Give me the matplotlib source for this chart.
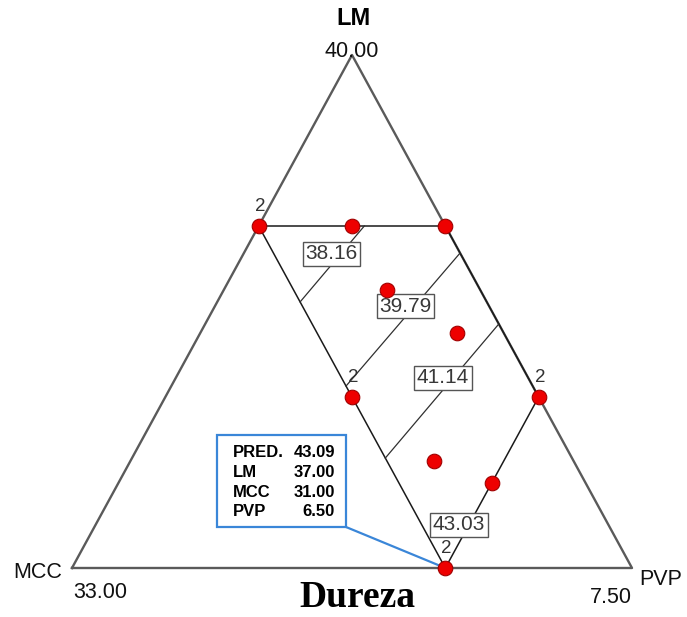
import numpy as np
import matplotlib.pyplot as plt
from matplotlib.patches import Rectangle

# valores nos vertices do simplex
lm_max = 40.00
mcc_max = 33.00
pvp_max = 7.50
total = 74.5

# limites inferiores de cada componente
span = (lm_max + mcc_max + pvp_max - total) / 2
lm_min = lm_max - span
mcc_min = mcc_max - span
pvp_min = pvp_max - span

# pontos do planejamento (LM, MCC, PVP)
design_lm = [39.0, 39.0, 39.0, 38.625, 38.375, 38.0, 37.625, 38.0, 37.5, 37.0]
design_mcc = [31.0, 30.5, 30.0, 30.5, 30.25, 31.0, 30.75, 30.0, 30.5, 31.0]
design_pvp = [4.5, 5.0, 5.5, 5.375, 5.875, 5.5, 6.125, 6.5, 6.5, 6.5]
replicas = [2, 1, 1, 1, 1, 2, 1, 2, 1, 2]

# regiao experimental
region_lm = [39.0, 39.0, 38.0, 37.0, 39.0]
region_mcc = [31.0, 30.0, 30.0, 31.0, 31.0]
region_pvp = [4.5, 5.5, 6.5, 6.5, 4.5]

# curvas de nivel da dureza
levels = [38.16, 39.79, 41.14, 43.03]
contour_lm = [[38.556, 39.0], [38.064, 38.842], [37.643, 38.427]]
contour_mcc = [[31.0, 30.434], [31.0, 30.0], [31.0, 30.0]]
contour_pvp = [[4.944, 5.066], [5.436, 5.658], [5.857, 6.073]]
label_lm = [38.839, 38.532, 38.114, 37.254]
label_mcc = [30.691, 30.447, 30.455, 30.800]
label_pvp = [4.970, 5.521, 5.931, 6.446]

# ponto selecionado
pred = 43.09
sel_lm, sel_mcc, sel_pvp = 37.00, 31.00, 6.50


def to_xy(lm, mcc, pvp):
    l = (np.asarray(lm) - lm_min) / span
    p = (np.asarray(pvp) - pvp_min) / span
    return p + 0.5 * l, l


sans = ['Liberation Sans', 'DejaVu Sans']

fig = plt.figure(figsize=(6.87, 6.17), dpi=100)
ax = fig.add_axes([0, 0, 1, 1])
ax.set_xlim(-72 / 560, 615 / 560)
ax.set_ylim(-49 / 513, 568 / 513)
ax.axis('off')

# triangulo externo
tx, ty = to_xy([lm_min, lm_min, lm_max, lm_min], [mcc_max, mcc_min, mcc_min, mcc_max],
               [pvp_min, pvp_max, pvp_min, pvp_min])
ax.plot(tx, ty, color='#5a5a5a', lw=1.7, zorder=2)

rx, ry = to_xy(region_lm, region_mcc, region_pvp)
ax.plot(rx, ry, color='#1a1a1a', lw=1.1, zorder=2)

for i in range(len(contour_lm)):
    cx, cy = to_xy(contour_lm[i], contour_mcc[i], contour_pvp[i])
    ax.plot(cx, cy, color='#303030', lw=0.9, zorder=2)

for lev, a, b, c in zip(levels, label_lm, label_mcc, label_pvp):
    x, y = to_xy(a, b, c)
    ax.text(x, y, f"{lev:.2f}", ha='center', va='center', fontsize=15, color='#383838',
            family=sans, zorder=5,
            bbox=dict(boxstyle='square,pad=0.12', fc='white', ec='#555555', lw=1.0))

# caixa de predicao
bx0, by0, bw, bh = 145 / 560, 41 / 513, 129 / 560, 92 / 513
ax.add_patch(Rectangle((bx0, by0), bw, bh, fill=False, ec='#3a86d8', lw=1.6, zorder=3))
sx, sy = to_xy(sel_lm, sel_mcc, sel_pvp)
ax.plot([bx0 + bw, sx], [by0, sy], color='#3a86d8', lw=1.6, zorder=3)

rows = [("PRED.", pred), ("LM", sel_lm), ("MCC", sel_mcc), ("PVP", sel_pvp)]
row_y = [0.2242, 0.1852, 0.1462, 0.1092]
for (name, val), yy in zip(rows, row_y):
    ax.text(0.2875, yy, name, ha='left', va='center', fontsize=12, fontweight='bold', family=sans)
    ax.text(0.4696, yy, f"{val:.2f}", ha='right', va='center', fontsize=12, fontweight='bold', family=sans)

# pontos do planejamento
px, py = to_xy(design_lm, design_mcc, design_pvp)
ax.plot(px, py, 'o', ms=10.5, mfc='#ee0000', mec='#a00000', mew=0.8, zorder=6, clip_on=False)
for x, y, n in zip(px, py, replicas):
    if n > 1:
        ax.annotate(str(n), (x, y), xytext=(1, 14), textcoords='offset points',
                    ha='center', va='center', fontsize=13.5, color='#333333', family=sans, zorder=7)

# rotulos dos vertices
ax.text(0.502, 1.072, "LM", ha='center', va='center', fontsize=17, fontweight='bold', family=sans)
ax.text(0.5, 1.006, f"{lm_max:.2f}", ha='center', va='center', fontsize=15.5, family=sans, color='#111111')
ax.text(-0.0607, -0.0088, "MCC", ha='center', va='center', fontsize=15.5, family=sans, color='#111111')
ax.text(0.05, -0.0487, f"{mcc_max:.2f}", ha='center', va='center', fontsize=15.5, family=sans, color='#111111')
ax.text(1.0518, -0.0224, "PVP", ha='center', va='center', fontsize=15.5, family=sans, color='#111111')
ax.text(0.9625, -0.0575, f"{pvp_max:.2f}", ha='center', va='center', fontsize=15.5, family=sans, color='#111111')
ax.text(0.51, -0.076, "Dureza", ha='center', va='baseline', fontsize=27, fontweight='bold',
        family=['Liberation Serif', 'DejaVu Serif'])

fig.savefig('out.png', dpi=100)
